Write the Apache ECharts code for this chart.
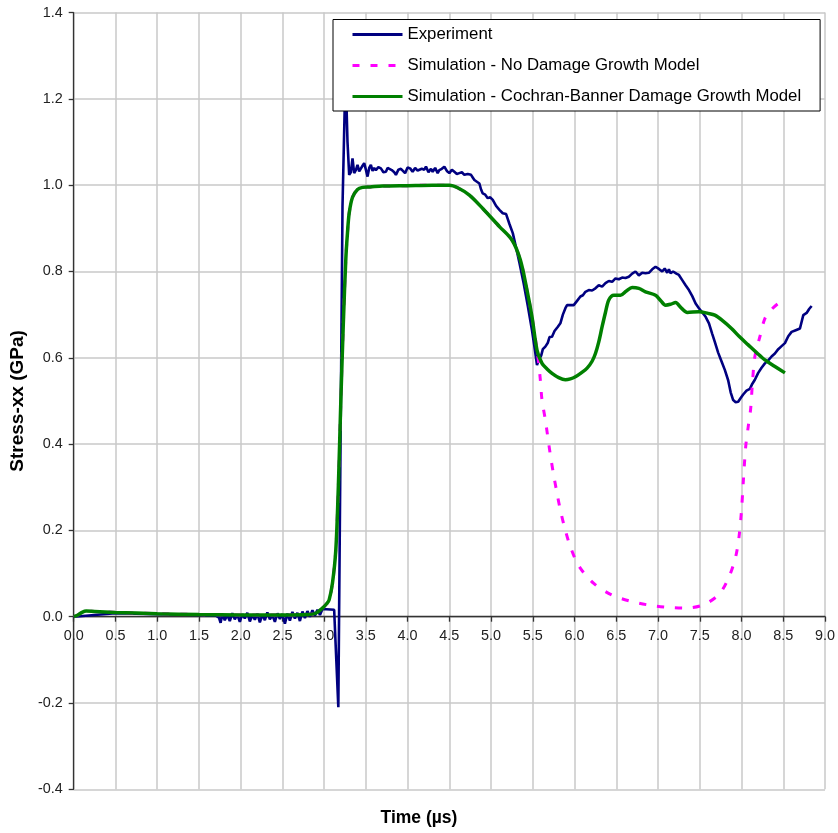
<!DOCTYPE html>
<html>
<head>
<meta charset="utf-8">
<script src="https://cdn.jsdelivr.net/npm/echarts@6/dist/echarts.min.js"></script>
<style>html,body{margin:0;padding:0;background:#fff;}#c{width:838px;height:833px;}</style>
</head>
<body>
<div id="c"></div>
<script>
var seriesNames = ['Experiment', 'Simulation - No Damage Growth Model', 'Simulation - Cochran-Banner Damage Growth Model'];
var xTitle = 'Time (\u00b5s)';
var yTitle = 'Stress-xx (GPa)';

var expTime = [0, 0.5, 1.0, 1.5, 1.70, 1.74, 1.76, 1.78, 1.81, 1.84, 1.87, 1.90, 1.93, 1.96, 1.99, 2.02, 2.05, 2.08, 2.11, 2.14, 2.17, 2.20, 2.23, 2.26, 2.29, 2.32, 2.35, 2.38, 2.41, 2.44, 2.47, 2.50, 2.53, 2.56, 2.59, 2.62, 2.65, 2.68, 2.71, 2.74, 2.77, 2.80, 2.83, 2.86, 2.89, 2.92, 2.95, 2.98, 3.00, 3.12, 3.17, 3.22, 3.25, 3.26, 3.28, 3.30, 3.32, 3.34, 3.36, 3.38, 3.40, 3.42, 3.44, 3.46, 3.48, 3.50, 3.52, 3.54, 3.56, 3.58, 3.60, 3.62, 3.65, 3.68, 3.71, 3.74, 3.76, 3.78, 3.81, 3.84, 3.86, 3.89, 3.92, 3.94, 3.97, 4.00, 4.03, 4.06, 4.09, 4.12, 4.14, 4.17, 4.20, 4.22, 4.25, 4.28, 4.30, 4.33, 4.36, 4.38, 4.41, 4.44, 4.47, 4.50, 4.53, 4.56, 4.59, 4.62, 4.65, 4.68, 4.72, 4.76, 4.78, 4.80, 4.83, 4.86, 4.88, 4.90, 4.93, 4.96, 4.99, 5.02, 5.06, 5.10, 5.14, 5.18, 5.22, 5.26, 5.30, 5.34, 5.39, 5.44, 5.49, 5.52, 5.55, 5.57, 5.60, 5.62, 5.65, 5.68, 5.70, 5.73, 5.76, 5.80, 5.83, 5.86, 5.89, 5.91, 5.95, 5.99, 6.03, 6.07, 6.10, 6.13, 6.17, 6.21, 6.25, 6.29, 6.33, 6.37, 6.41, 6.45, 6.49, 6.53, 6.57, 6.61, 6.65, 6.69, 6.73, 6.77, 6.81, 6.85, 6.89, 6.93, 6.97, 7.01, 7.05, 7.08, 7.11, 7.13, 7.15, 7.18, 7.22, 7.25, 7.29, 7.33, 7.37, 7.41, 7.45, 7.49, 7.53, 7.57, 7.61, 7.65, 7.68, 7.72, 7.76, 7.80, 7.84, 7.87, 7.90, 7.93, 7.96, 7.99, 8.02, 8.06, 8.10, 8.13, 8.16, 8.20, 8.24, 8.28, 8.32, 8.36, 8.40, 8.44, 8.48, 8.52, 8.56, 8.60, 8.65, 8.70, 8.74, 8.78, 8.81, 8.84];
var expStress = [0.000, 0.008, 0.006, 0.004, 0.003, -0.002, -0.014, 0.006, -0.008, 0.004, -0.010, 0.008, -0.006, 0.005, -0.012, 0.006, -0.004, 0.009, -0.011, 0.004, -0.007, 0.007, -0.013, 0.005, -0.008, 0.010, -0.006, 0.004, -0.012, 0.008, -0.005, 0.006, -0.016, 0.007, -0.009, 0.011, -0.004, 0.009, -0.010, 0.012, -0.003, 0.013, 0.000, 0.015, 0.002, 0.016, 0.004, 0.018, 0.015, 0.016, -0.210, 0.950, 1.210, 1.240, 1.100, 1.024, 1.030, 1.062, 1.028, 1.035, 1.047, 1.032, 1.031, 1.045, 1.051, 1.036, 1.020, 1.040, 1.047, 1.033, 1.040, 1.035, 1.042, 1.039, 1.030, 1.031, 1.040, 1.044, 1.035, 1.030, 1.024, 1.036, 1.038, 1.035, 1.028, 1.041, 1.039, 1.031, 1.040, 1.034, 1.031, 1.038, 1.036, 1.043, 1.030, 1.038, 1.031, 1.040, 1.028, 1.035, 1.038, 1.043, 1.033, 1.028, 1.036, 1.031, 1.026, 1.028, 1.030, 1.024, 1.026, 1.024, 1.018, 1.012, 1.008, 1.004, 0.990, 0.981, 0.978, 0.970, 0.972, 0.966, 0.952, 0.943, 0.935, 0.933, 0.910, 0.889, 0.855, 0.820, 0.773, 0.720, 0.664, 0.625, 0.583, 0.595, 0.605, 0.620, 0.626, 0.635, 0.648, 0.649, 0.662, 0.672, 0.680, 0.700, 0.715, 0.722, 0.722, 0.722, 0.732, 0.742, 0.745, 0.753, 0.757, 0.756, 0.761, 0.768, 0.765, 0.773, 0.778, 0.776, 0.784, 0.782, 0.786, 0.785, 0.788, 0.795, 0.800, 0.791, 0.797, 0.796, 0.797, 0.805, 0.811, 0.806, 0.800, 0.807, 0.797, 0.805, 0.796, 0.800, 0.795, 0.792, 0.780, 0.768, 0.757, 0.743, 0.726, 0.715, 0.705, 0.695, 0.680, 0.655, 0.637, 0.612, 0.592, 0.572, 0.548, 0.520, 0.502, 0.497, 0.498, 0.507, 0.515, 0.524, 0.528, 0.540, 0.549, 0.565, 0.577, 0.587, 0.594, 0.603, 0.610, 0.620, 0.627, 0.634, 0.650, 0.660, 0.664, 0.668, 0.699, 0.704, 0.713, 0.720];

var noDmgTime = [0, 0.05, 0.10, 0.15, 0.25, 0.5, 1.0, 1.5, 2.0, 2.5, 2.8, 2.9, 2.98, 3.03, 3.06, 3.10, 3.14, 3.17, 3.20, 3.23, 3.26, 3.28, 3.30, 3.34, 3.40, 3.46, 3.55, 3.70, 4.0, 4.3, 4.5, 4.6, 4.74, 4.90, 5.10, 5.25, 5.35, 5.43, 5.49, 5.55, 5.57, 5.59, 5.61, 5.65, 5.71, 5.75, 5.79, 5.83, 5.89, 5.95, 6.05, 6.23, 6.45, 6.67, 6.89, 7.11, 7.33, 7.55, 7.74, 7.86, 7.93, 7.97, 8.00, 8.02, 8.05, 8.08, 8.11, 8.13, 8.16, 8.22, 8.28, 8.36, 8.44, 8.48];
var noDmgStress = [0.000, 0.004, 0.010, 0.013, 0.012, 0.010, 0.007, 0.005, 0.004, 0.004, 0.005, 0.008, 0.020, 0.030, 0.039, 0.078, 0.155, 0.300, 0.500, 0.680, 0.830, 0.890, 0.935, 0.972, 0.990, 0.995, 0.996, 0.998, 0.999, 1.000, 1.000, 0.994, 0.977, 0.946, 0.904, 0.873, 0.827, 0.757, 0.695, 0.618, 0.588, 0.549, 0.502, 0.456, 0.375, 0.328, 0.286, 0.247, 0.200, 0.162, 0.118, 0.077, 0.050, 0.036, 0.027, 0.022, 0.020, 0.028, 0.054, 0.097, 0.139, 0.185, 0.247, 0.309, 0.394, 0.440, 0.483, 0.540, 0.603, 0.649, 0.691, 0.712, 0.726, 0.730];

var cbTime = [0, 0.05, 0.10, 0.15, 0.25, 0.5, 1.0, 1.5, 2.0, 2.5, 2.8, 2.9, 2.98, 3.03, 3.06, 3.10, 3.14, 3.17, 3.20, 3.23, 3.26, 3.28, 3.30, 3.34, 3.40, 3.46, 3.55, 3.70, 4.0, 4.3, 4.5, 4.6, 4.74, 4.90, 5.10, 5.25, 5.35, 5.43, 5.49, 5.55, 5.61, 5.67, 5.73, 5.81, 5.89, 5.95, 6.01, 6.08, 6.15, 6.21, 6.25, 6.29, 6.33, 6.37, 6.41, 6.47, 6.55, 6.62, 6.69, 6.77, 6.85, 6.97, 7.03, 7.09, 7.15, 7.21, 7.28, 7.35, 7.49, 7.60, 7.68, 7.78, 7.88, 7.98, 8.08, 8.18, 8.28, 8.40, 8.52];
var cbStress = [0.000, 0.004, 0.010, 0.013, 0.012, 0.010, 0.007, 0.005, 0.004, 0.004, 0.005, 0.008, 0.020, 0.030, 0.039, 0.078, 0.155, 0.300, 0.500, 0.680, 0.830, 0.890, 0.935, 0.972, 0.990, 0.995, 0.996, 0.998, 0.999, 1.000, 1.000, 0.994, 0.977, 0.946, 0.904, 0.873, 0.827, 0.757, 0.695, 0.618, 0.587, 0.574, 0.564, 0.554, 0.549, 0.551, 0.556, 0.565, 0.576, 0.592, 0.610, 0.637, 0.672, 0.705, 0.734, 0.745, 0.745, 0.755, 0.763, 0.761, 0.753, 0.745, 0.733, 0.722, 0.724, 0.728, 0.715, 0.705, 0.707, 0.703, 0.699, 0.685, 0.668, 0.648, 0.630, 0.612, 0.595, 0.580, 0.565];

function pairs(t, v) { return t.map(function (x, i) { return [x, v[i]]; }); }

var FONT = 'Liberation Sans';
var GRID_TOP = 12.6, GRID_BOTTOM = 43.7, CHART_H = 833;
var Y_MIN = -0.4, Y_MAX = 1.4;
// shift the x axis (line, ticks, labels) up from the grid bottom to the y = 0 line
var plotH = CHART_H - GRID_TOP - GRID_BOTTOM;
var xAxisOffset = -plotH * (0 - Y_MIN) / (Y_MAX - Y_MIN);

var chart = echarts.init(document.getElementById('c'), null, { renderer: 'canvas' });
chart.setOption({
  animation: false,
  backgroundColor: '#ffffff',
  grid: { left: 73.5, right: 11, top: GRID_TOP, bottom: GRID_BOTTOM, containLabel: false },
  legend: {
    left: 333, top: 19.5, orient: 'vertical',
    data: seriesNames,
    backgroundColor: '#ffffff', borderColor: '#000000', borderWidth: 1,
    padding: [6.5, 19, 6, 18],
    itemWidth: 50, itemHeight: 17, itemGap: 14,
    itemStyle: { opacity: 0 },
    lineStyle: { width: 3 },
    textStyle: { fontFamily: FONT, fontSize: 16.8, color: '#000000' }
  },
  xAxis: {
    type: 'value', min: 0, max: 9, interval: 0.5,
    offset: xAxisOffset,
    axisLine: { onZero: false, lineStyle: { color: '#333333', width: 1.3 } },
    axisTick: { show: true, inside: false, length: 5, lineStyle: { color: '#333333', width: 1.3 } },
    axisLabel: { margin: 12, fontFamily: FONT, fontSize: 14.4, color: '#222222', formatter: function (v) { return v.toFixed(1); } },
    splitLine: { show: true, lineStyle: { color: '#c8c8c8', width: 1.5 } }
  },
  yAxis: {
    type: 'value', min: Y_MIN, max: Y_MAX, interval: 0.2,
    name: yTitle, nameLocation: 'middle', nameRotate: 90, nameGap: 46,
    nameTextStyle: { fontFamily: FONT, fontSize: 19, fontWeight: 'bold', color: '#000000' },
    axisLine: { show: true, onZero: false, lineStyle: { color: '#333333', width: 1.3 } },
    axisTick: { show: true, inside: false, length: 5, lineStyle: { color: '#333333', width: 1.3 } },
    axisLabel: { margin: 11, fontFamily: FONT, fontSize: 14.4, color: '#222222', formatter: function (v) { return v.toFixed(1); } },
    splitLine: { show: true, lineStyle: { color: '#c8c8c8', width: 1.5 } }
  },
  graphic: [{
    type: 'text', left: 'center', top: 809,
    style: { text: xTitle, font: 'bold 17.5px "Liberation Sans"', fill: '#000000' }
  }],
  series: [
    { name: seriesNames[0], type: 'line', data: pairs(expTime, expStress), showSymbol: false, symbol: 'none',
      lineStyle: { color: '#000080', width: 2.6 }, itemStyle: { color: '#000080' } },
    { name: seriesNames[1], type: 'line', data: pairs(noDmgTime, noDmgStress), showSymbol: false, symbol: 'none', smooth: 0.3,
      lineStyle: { color: '#ff00ff', width: 3, type: [7, 11] }, itemStyle: { color: '#ff00ff' } },
    { name: seriesNames[2], type: 'line', data: pairs(cbTime, cbStress), showSymbol: false, symbol: 'none', smooth: 0.3,
      lineStyle: { color: '#008000', width: 3.5 }, itemStyle: { color: '#008000' } }
  ]
});
</script>
</body>
</html>
